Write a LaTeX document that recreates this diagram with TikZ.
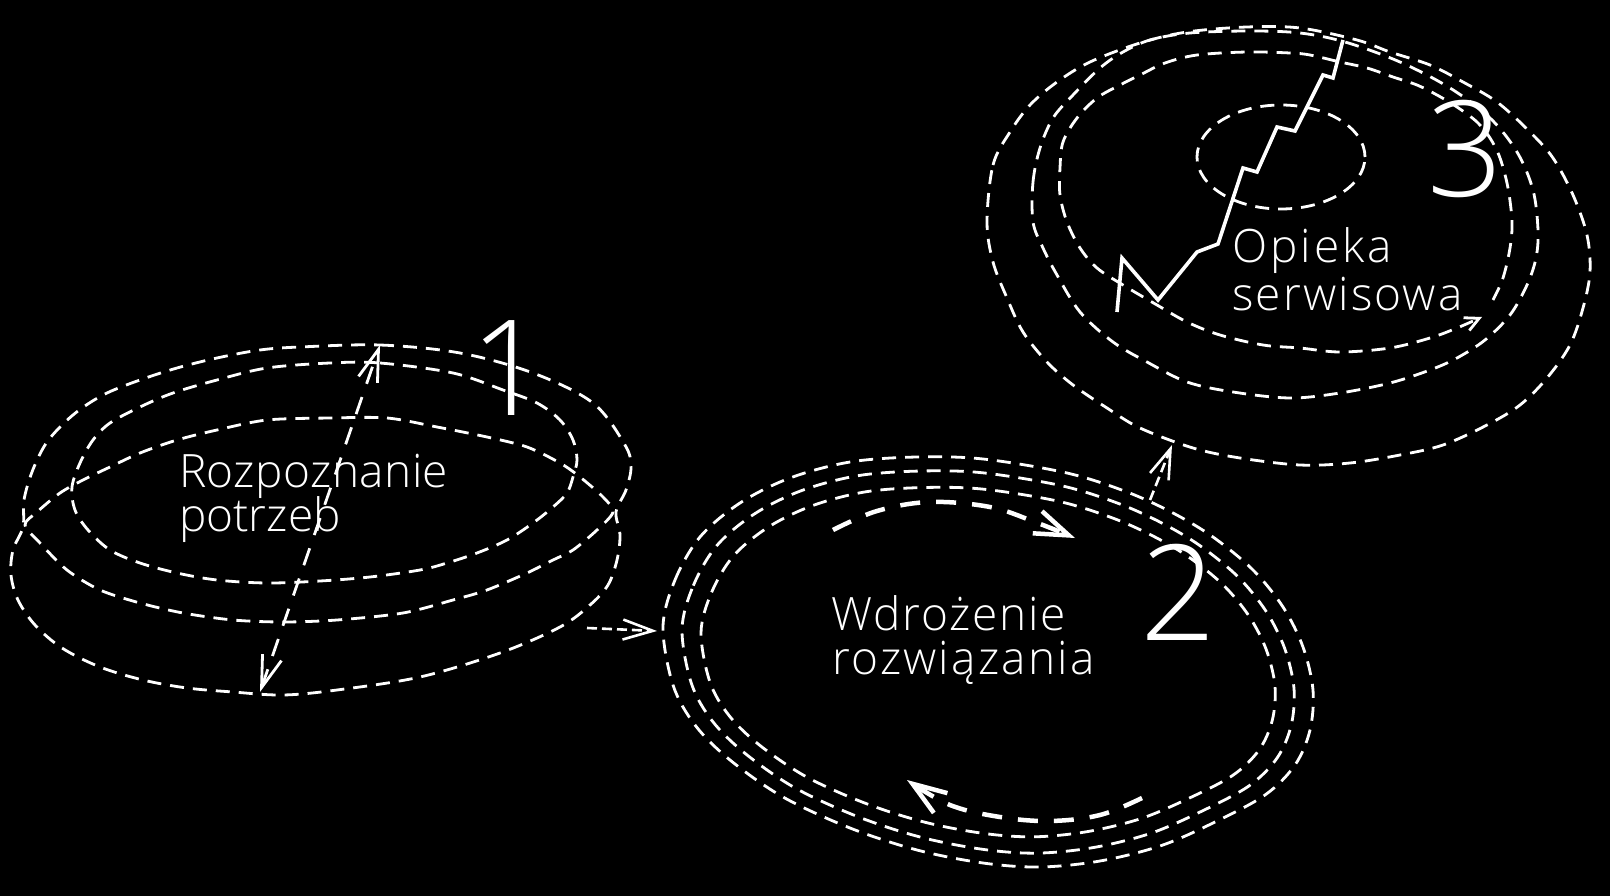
\documentclass[tikz,border=0pt]{standalone}
\usepackage{fontspec}
\IfFontExistsTF{Open Sans Light}{\setmainfont{Open Sans Light}}{\setmainfont{Open Sans}}
\usetikzlibrary{arrows.meta}
\newcommand{\trk}[1]{\addfontfeatures{LetterSpace=#1}}
\tikzset{
  ring/.style={draw=white, line width=2.8pt, dash pattern=on 14pt off 9pt},
  linkarr/.style={draw=white, line width=2.6pt, dash pattern=on 10pt off 5pt,
    -{Straight Barb[length=30pt,width=20pt]}},
  axisarr/.style={draw=white, line width=2.8pt, dash pattern=on 18pt off 14pt,
    {Straight Barb[length=32pt,width=20pt]}-{Straight Barb[length=32pt,width=20pt]}},
  thickarr/.style={draw=white, line width=4.5pt, dash pattern=on 20pt off 16pt,
    -{Straight Barb[length=34pt,width=24pt]}},
  smallarr/.style={draw=white, line width=2.8pt, dash pattern=on 14pt off 9pt,
    -{Straight Barb[length=14pt,width=14pt]}},
  zig/.style={draw=white, line width=3.6pt, line join=miter},
  lbl/.style={text=white, font=\fontsize{46pt}{46pt}\selectfont, inner sep=0pt, anchor=base west},
  digit/.style={text=white, font=\fontsize{133pt}{133pt}\selectfont, inner sep=0pt, anchor=base},
}
\begin{document}
\begin{tikzpicture}[x=1pt,y=-1pt]
\useasboundingbox (0,0) rectangle (1610,896);
\fill[black] (0,0) rectangle (1610,896);

% ---------------- Stage 1 ----------------
\draw[ring] plot[smooth cycle, tension=0.55] coordinates {(300,347)(380,345)(460,353)(533,373)(593,403)(625,445)(631,467)(626,490)(616,512)(620,535)(617,560)(608,585)(590,605)(560,627)(500,653)(420,677)(337,690)(283,695)(233,692)(187,688)(143,680)(100,667)(62,648)(35,625)(18,600)(11,575)(13,550)(23,527)(24,500)(32,472)(45,445)(62,425)(82,408)(107,393)(140,380)(177,368)(217,358)(260,350)};
\draw[ring] plot[smooth cycle, tension=0.55] coordinates {(330,363)(380,363)(453,373)(503,390)(537,403)(560,420)(573,440)(577,460)(573,477)(567,493)(553,507)(533,523)(507,540)(477,553)(447,563)(420,570)(370,577)(320,581)(267,583)(217,580)(177,573)(140,563)(110,550)(88,530)(75,510)(72,487)(80,463)(93,440)(110,423)(140,407)(173,393)(217,380)(267,368)};
\draw[ring] plot[smooth cycle, tension=0.5] coordinates {(330,418)(387,418)(437,427)(487,437)(527,447)(560,463)(580,477)(603,497)(613,512)(597,530)(573,550)(553,560)(527,573)(487,590)(453,600)(403,613)(337,620)(283,622)(233,620)(183,613)(140,603)(100,590)(67,570)(40,543)(25,525)(37,512)(60,493)(83,480)(110,467)(140,453)(177,440)(217,430)(267,420)};
\coordinate (v1b) at (260,692);
\coordinate (v1t) at (380,345);
\draw[axisarr] (v1b) -- (v1t);
\node[lbl] (t1a) at (179,487) {\trk{1}Rozpoznanie};
\node[lbl] (t1b) at (179,531) {potrzeb};
\node[digit] (n1) at (508,415) {1};

% ---------------- link 1 -> 2 ----------------
\coordinate (l12a) at (587,628);
\coordinate (l12b) at (657,631);
\draw[linkarr] (l12a) -- (l12b);

% ---------------- Stage 2 ----------------
\begin{scope}[shift={(988,663)}]
\foreach \sx/\sy in {1/1, 0.9415/0.932, 0.883/0.852}{
\draw[ring, xscale=\sx, yscale=\sy] plot[smooth cycle, tension=0.55] coordinates {(-325,-36)(-313,-83)(-288,-126)(-248,-160)(-198,-185)(-138,-201)(-71,-206)(-5,-204)(79,-190)(139,-171)(185,-150)(225,-126)(265,-93)(295,-56)(315,-16)(325,27)(322,67)(307,102)(277,132)(225,160)(172,183)(112,198)(52,204)(-5,200)(-71,187)(-138,165)(-205,134)(-258,97)(-293,62)(-315,22)};
}
\end{scope}
\draw[thickarr] plot[smooth, tension=0.6] coordinates {(833,530)(877,511)(930,502)(990,507)(1035,522)(1075,538)};
\draw[thickarr] plot[smooth, tension=0.6] coordinates {(1142,798)(1100,815)(1050,821)(1000,817)(950,805)(907,780)};
\node[lbl] (t2a) at (831,630) {\trk{4}Wdrożenie};
\node[lbl] (t2b) at (832,674) {\trk{4.8}rozwiązania};
\node[digit] (n2) at (1178,640) {2};

% ---------------- link 2 -> 3 ----------------
\coordinate (l23a) at (1150,500);
\coordinate (l23b) at (1172,445);
\draw[linkarr] (l23a) -- (l23b);

% ---------------- Stage 3 ----------------
\draw[ring] plot[smooth cycle, tension=0.55] coordinates {(987,222)(993,165)(1010,132)(1030,105)(1057,82)(1090,62)(1140,43)(1187,32)(1247,27)(1300,28)(1357,40)(1390,52)(1430,65)(1463,82)(1497,102)(1530,132)(1553,158)(1573,195)(1587,235)(1590,272)(1583,308)(1570,345)(1547,378)(1520,405)(1487,425)(1443,445)(1400,455)(1350,463)(1300,465)(1240,458)(1193,448)(1140,428)(1107,408)(1073,385)(1047,362)(1023,332)(1007,298)(993,262)};
\draw[ring] plot[smooth cycle, tension=0.55] coordinates {(1033,222)(1033,182)(1040,148)(1053,118)(1073,95)(1100,68)(1123,52)(1150,40)(1190,33)(1250,31)(1300,33)(1345,42)(1400,62)(1450,88)(1490,118)(1517,152)(1533,190)(1538,230)(1536,258)(1527,285)(1510,315)(1485,340)(1457,358)(1430,370)(1390,383)(1340,393)(1290,398)(1233,392)(1187,382)(1147,362)(1113,342)(1080,312)(1057,275)(1043,248)};
\draw[smallarr] plot[smooth, tension=0.55] coordinates {(1493,300)(1503,278)(1510,248)(1512,222)(1508,188)(1500,158)(1490,138)(1477,122)(1457,107)(1437,95)(1417,85)(1393,77)(1367,68)(1340,62)(1310,55)(1290,53)(1247,52)(1197,55)(1165,63)(1140,75)(1120,85)(1097,98)(1077,118)(1063,142)(1060,168)(1060,195)(1067,222)(1080,248)(1097,268)(1123,285)(1157,305)(1187,322)(1220,335)(1263,345)(1300,348)(1340,352)(1390,348)(1430,338)(1457,328)(1482,317)};
\draw[ring] (1281,157) ellipse [x radius=84pt, y radius=52pt];
\draw[zig] (1117,312) -- (1122,258) -- (1158,300) -- (1197,252) -- (1218,244) -- (1243,168) -- (1257,172) -- (1277,127) -- (1295,131) -- (1323,75) -- (1333,78) -- (1343,40);
\node[lbl] (t3a) at (1232,263) {\trk{6.5}Opieka};
\node[lbl] (t3b) at (1232,311) {\trk{4.6}serwisowa};
\node[digit] (n3) at (1465,197) {3};
\end{tikzpicture}
\end{document}
